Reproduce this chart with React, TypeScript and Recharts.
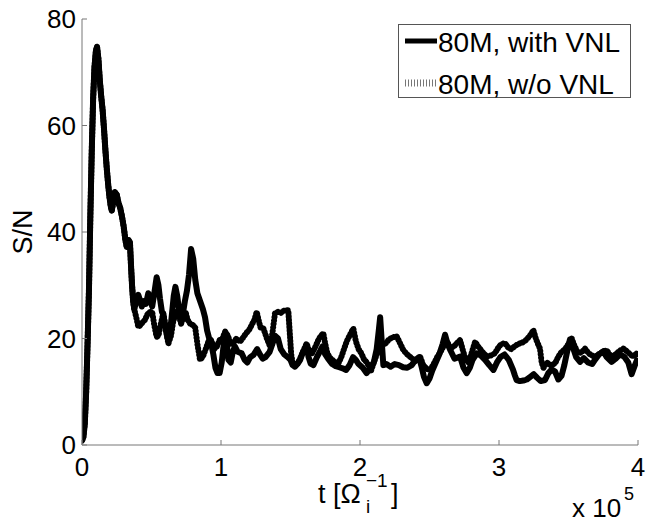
import { LineChart, Line, XAxis, YAxis, Legend } from 'recharts'

// time in units of 1e5 / Omega_i
const tWith = [
  0, 0.01, 0.02, 0.03, 0.04, 0.05, 0.06, 0.07, 0.08, 0.09, 0.1, 0.108, 0.118, 0.128, 0.138, 0.148, 0.158, 0.168, 0.178, 0.188,
  0.198, 0.207, 0.214, 0.224, 0.236, 0.25, 0.262, 0.275, 0.287, 0.3, 0.312, 0.322, 0.335, 0.345, 0.352, 0.36, 0.368, 0.376,
  0.39, 0.405, 0.42, 0.43, 0.445, 0.46, 0.477, 0.49, 0.505, 0.52, 0.537, 0.55, 0.561, 0.575, 0.585, 0.6, 0.615, 0.63, 0.645,
  0.66, 0.672, 0.685, 0.7, 0.713, 0.725, 0.74, 0.755, 0.77, 0.785, 0.8, 0.815, 0.83, 0.85, 0.87, 0.885, 0.9, 0.915, 0.93,
  0.945, 0.96, 0.975, 0.99, 1.005, 1.02, 1.035, 1.053, 1.07, 1.085, 1.1, 1.12, 1.149, 1.17, 1.19, 1.21, 1.233, 1.26, 1.28,
  1.3, 1.32, 1.35, 1.37, 1.39, 1.41, 1.43, 1.455, 1.48, 1.5, 1.515, 1.532, 1.55, 1.57, 1.59, 1.616, 1.63, 1.645, 1.665,
  1.69, 1.71, 1.73, 1.75, 1.77, 1.8, 1.825, 1.85, 1.875, 1.9, 1.925, 1.95, 1.97, 1.99, 2.02, 2.048, 2.075, 2.1, 2.12,
  2.135, 2.145, 2.155, 2.168, 2.19, 2.22, 2.25, 2.28, 2.31, 2.34, 2.372, 2.4, 2.425, 2.445, 2.46, 2.48, 2.5, 2.52, 2.545,
  2.57, 2.595, 2.612, 2.63, 2.65, 2.68, 2.72, 2.745, 2.768, 2.79, 2.81, 2.84, 2.87, 2.9, 2.93, 2.96, 2.985, 3.01, 3.04,
  3.07, 3.1, 3.115, 3.127, 3.15, 3.175, 3.2, 3.225, 3.25, 3.275, 3.3, 3.331, 3.355, 3.38, 3.403, 3.427, 3.45, 3.47, 3.49,
  3.51, 3.53, 3.555, 3.583, 3.61, 3.64, 3.67, 3.69, 3.72, 3.75, 3.775, 3.81, 3.84, 3.87, 3.9, 3.93, 3.954, 3.975, 4.0,
]
const snWith = [
  0.8, 1.5, 4, 10, 19, 29, 43, 55, 65, 71, 74, 74.8, 72.5, 68.5, 65.5, 63, 59.5, 55.5, 52, 49,
  46.5, 44.8, 44, 45.5, 47.5, 47, 45.5, 44.5, 43, 41, 38.5, 37.2, 38.5, 38, 34, 30, 27, 25.5,
  27, 28.2, 27, 26, 27, 26.5, 28.5, 27.5, 26, 28.5, 31.5, 30, 27.5, 25, 24.5, 22, 20, 20.5, 24,
  28, 29.7, 28, 25, 23, 24.5, 27, 29, 32, 36.8, 35, 31, 28.5, 27, 25.5, 24, 21.5, 20, 19,
  17, 14.5, 13.5, 13.5, 15.5, 19, 21, 16, 15.5, 17.5, 18.5, 17.5, 17.2, 16, 15.5, 16.5, 16.9, 18, 17,
  16.2, 16.5, 17.5, 19, 20.5, 20, 18, 17, 16.5, 16, 15, 14.7, 15.2, 16, 17.5, 18.5, 16.5, 15.3, 15,
  16.5, 17.5, 18.5, 17, 16.2, 15.2, 14.8, 14.6, 14.4, 14.1, 15, 16.5, 16, 15.2, 14.5, 13.5, 14.5, 15.6, 18,
  21.5, 24, 20, 15, 15.2, 14.7, 15.2, 15, 14.6, 14.5, 15, 16, 16.5, 14.5, 12.8, 11.6, 12.5, 14, 15.5,
  17, 19, 20.7, 19, 17.8, 16.2, 16.6, 14.5, 13.5, 14.5, 16, 17.2, 16.8, 16, 15, 14.1, 15.5, 16.5, 17,
  16, 14.2, 13, 12.2, 12, 12.1, 12.3, 12.8, 13.3, 12.6, 12, 12.2, 13.5, 14.2, 13.8, 12.3, 13, 15, 17.5,
  19.8, 18.5, 16.5, 15.6, 16.3, 15.5, 15.2, 16, 17, 17.6, 16.5, 15.6, 16.2, 17, 16.6, 15.5, 13.3, 14.8, 16.4,
]

const tWithout = [
  0, 0.01, 0.02, 0.03, 0.04, 0.05, 0.06, 0.07, 0.08, 0.09, 0.1, 0.108, 0.118, 0.128, 0.138, 0.148, 0.158, 0.168, 0.178, 0.188,
  0.198, 0.207, 0.214, 0.224, 0.236, 0.25, 0.262, 0.275, 0.287, 0.3, 0.312, 0.322, 0.335, 0.345, 0.352, 0.36, 0.368, 0.376,
  0.39, 0.405, 0.42, 0.435, 0.453, 0.47, 0.49, 0.505, 0.52, 0.537, 0.55, 0.565, 0.585, 0.6, 0.621, 0.64, 0.655, 0.675,
  0.695, 0.713, 0.73, 0.745, 0.76, 0.78, 0.8, 0.815, 0.83, 0.849, 0.87, 0.89, 0.91, 0.93, 0.95, 0.97, 0.99, 1.01, 1.03,
  1.05, 1.07, 1.09, 1.11, 1.137, 1.16, 1.18, 1.2, 1.22, 1.24, 1.257, 1.27, 1.285, 1.305, 1.33, 1.353, 1.37, 1.388, 1.41,
  1.43, 1.45, 1.47, 1.484, 1.495, 1.505, 1.515, 1.54, 1.565, 1.59, 1.616, 1.635, 1.655, 1.68, 1.705, 1.72, 1.736, 1.75,
  1.765, 1.79, 1.82, 1.844, 1.865, 1.885, 1.905, 1.93, 1.952, 1.97, 1.99, 2.01, 2.03, 2.05, 2.08, 2.1, 2.12, 2.14, 2.165,
  2.19, 2.204, 2.23, 2.264, 2.29, 2.312, 2.34, 2.372, 2.4, 2.432, 2.455, 2.48, 2.504, 2.53, 2.555, 2.58, 2.6, 2.625, 2.65,
  2.675, 2.7, 2.72, 2.74, 2.76, 2.78, 2.8, 2.828, 2.85, 2.88, 2.912, 2.94, 2.97, 3.0, 3.02, 3.043, 3.07, 3.09, 3.115, 3.14,
  3.165, 3.19, 3.215, 3.235, 3.247, 3.265, 3.28, 3.295, 3.307, 3.32, 3.345, 3.37, 3.403, 3.425, 3.45, 3.475, 3.5, 3.523,
  3.545, 3.565, 3.59, 3.619, 3.645, 3.67, 3.691, 3.715, 3.745, 3.775, 3.795, 3.82, 3.85, 3.875, 3.895, 3.92, 3.945, 3.965,
  3.985, 4.0,
]
const snWithout = [
  0.8, 1.5, 4, 10, 19, 29, 43, 55, 65, 71, 74, 74.8, 72.5, 68.5, 65.5, 63, 59.5, 55.5, 52, 49,
  46.5, 44.8, 44, 45.5, 47.5, 47, 45.5, 44.5, 43, 41, 38.5, 37.2, 38.5, 38, 34, 30, 27, 25.5,
  24, 22.2, 22.5, 23, 23.5, 24.5, 25, 25, 22.5, 20.3, 20.5, 22.5, 24.7, 22.5, 19, 20.5, 23, 25,
  24.5, 22.8, 24, 25, 23.5, 22.7, 22.5, 22, 19, 16, 16.6, 18, 19.5, 19.7, 18, 18.5, 19.7, 20, 21.3,
  20.5, 19, 19.2, 20, 19.4, 20.2, 21, 21.5, 22.5, 23.5, 25, 23.5, 22, 21.9, 20, 18.5, 21, 24.7, 25,
  24.8, 25.2, 25.3, 25.3, 21, 17, 15.5, 15, 16, 17.5, 19.1, 17.5, 17.2, 18.5, 20, 20.5, 21, 19,
  17.2, 16.2, 15.6, 15.3, 16.5, 18, 19.5, 20.8, 21.9, 19.5, 18, 17.2, 16, 15.5, 14, 15.5, 17, 18, 18.8,
  19.2, 19.7, 20.2, 20.4, 19, 17.8, 17, 16.3, 15.8, 16.6, 15, 14.3, 14.1, 15.2, 16.5, 17.5, 18.5, 19.5, 18.2,
  18.5, 19.2, 19.7, 17.8, 16, 15.5, 17, 19.4, 18.5, 17.5, 16.6, 16.8, 17.2, 18.5, 19, 19.1, 18.2, 18, 18.6, 19,
  19.2, 19.6, 20.3, 21, 21.6, 20, 19, 18.1, 15.5, 14.5, 15.5, 15, 15.3, 16.5, 17.5, 18, 19, 20,
  18.5, 17.5, 17.3, 18.1, 17.2, 16.8, 16.6, 17, 17.5, 17.8, 17, 16.6, 17.3, 17.8, 18.1, 17.6, 17, 16.6,
  17.2, 17,
]

const xTicks = [0, 1, 2, 3, 4]
const yTicks = [0, 20, 40, 60, 80]
const seriesNames = ['80M, with VNL', '80M, w/o VNL']

const font = '"Liberation Sans", Arial, Helvetica, sans-serif'
const axisGray = '#777'

const withData = tWith.map((t, i) => ({ t, sn: snWith[i] }))
const withoutData = tWithout.map((t, i) => ({ t, sn: snWithout[i] }))

function XTick({ x, y, payload }: any) {
  return (
    <g>
      <line x1={x} x2={x} y1={y} y2={y - 5} stroke={axisGray} />
      <text x={x} y={y + 31} textAnchor="middle" fontSize={26} fontFamily={font} fill="#000">
        {payload.value}
      </text>
    </g>
  )
}

function YTick({ x, y, payload }: any) {
  return (
    <g>
      <line x1={x} x2={x + 5} y1={y} y2={y} stroke={axisGray} />
      <text x={x - 6} y={y + 9} textAnchor="end" fontSize={26} fontFamily={font} fill="#000">
        {payload.value}
      </text>
    </g>
  )
}

function XLabel() {
  return (
    <g fontFamily={font} fill="#000">
      <text fontSize={27}>
        <tspan x={318} y={503}>t [Ω</tspan>
        <tspan x={366} y={487} fontSize={19}>−1</tspan>
        <tspan x={366} y={513} fontSize={19}>i</tspan>
        <tspan x={391} y={503}>]</tspan>
      </text>
      <text fontSize={26}>
        <tspan x={572} y={517}>x 10</tspan>
        <tspan x={624} y={500} fontSize={18}>5</tspan>
      </text>
    </g>
  )
}

function YLabel() {
  return (
    <text x={23} y={232} transform="rotate(-90, 23, 232)" textAnchor="middle" dominantBaseline="central"
      fontSize={27} fontFamily={font} fill="#000">
      S/N
    </text>
  )
}

function LegendBox() {
  return (
    <svg width={233} height={80} style={{ display: 'block', overflow: 'visible' }}>
      <rect x={0.5} y={0.5} width={232} height={73} fill="#fff" stroke="#555" />
      <line x1={7} x2={39} y1={17} y2={17} stroke="#000" strokeWidth={5} />
      <line x1={7} x2={39} y1={59} y2={59} stroke="#777" strokeWidth={7} strokeDasharray="1 2" />
      <text x={40} y={28} fontSize={28} fontFamily={font} fill="#000">{seriesNames[0]}</text>
      <text x={40} y={70} fontSize={28} fontFamily={font} fill="#000">{seriesNames[1]}</text>
    </svg>
  )
}

export default function App() {
  return (
    <div style={{ width: 646, height: 522, background: '#fff', overflow: 'hidden' }}>
      <style>{'body { margin: 0; overflow: hidden; }'}</style>
      <LineChart width={646} height={522} margin={{ top: 19, right: 8, bottom: 0, left: 0 }}>
        <XAxis dataKey="t" type="number" domain={[0, 4]} ticks={xTicks} interval={0} height={77}
          tickSize={0} tickMargin={0} tick={XTick} axisLine={{ stroke: axisGray }} allowDataOverflow
          label={<XLabel />} />
        <YAxis type="number" domain={[0, 80]} ticks={yTicks} interval={0} width={82}
          tickSize={0} tickMargin={0} tick={YTick} axisLine={{ stroke: axisGray }} allowDataOverflow
          label={<YLabel />} />
        <Legend layout="vertical" align="center" verticalAlign="middle" content={<LegendBox />}
          wrapperStyle={{ left: 398, top: 24, width: 233, height: 80 }} />
        <Line data={withoutData} dataKey="sn" name={seriesNames[1]} type="linear" stroke="#000" strokeWidth={6}
          strokeDasharray="0.5 3" strokeLinecap="round" strokeLinejoin="round" dot={false} isAnimationActive={false} />
        <Line data={withData} dataKey="sn" name={seriesNames[0]} type="linear" stroke="#000" strokeWidth={6}
          strokeLinejoin="round" dot={false} isAnimationActive={false} />
      </LineChart>
    </div>
  )
}
